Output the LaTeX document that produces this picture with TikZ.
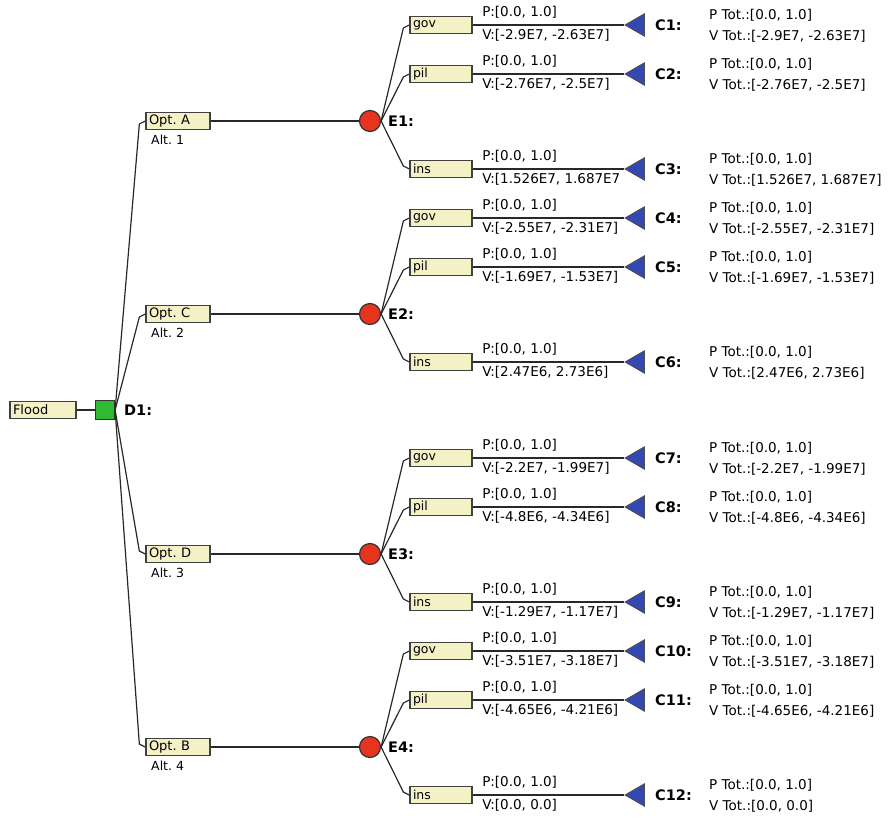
\documentclass[tikz,border=0pt]{standalone}
\usepackage{fontspec}
\setmainfont{DejaVu Sans}
\usepackage{tikz}
\usetikzlibrary{arrows.meta,shapes.geometric}
\frenchspacing

\definecolor{boxfill}{RGB}{245,241,198}
\definecolor{evred}{RGB}{230,52,30}
\definecolor{decgreen}{RGB}{48,186,52}
\definecolor{payblue}{RGB}{52,72,178}
\definecolor{wire}{RGB}{40,40,40}

\begin{document}
\begin{tikzpicture}[x=1pt, y=-1pt, >=Latex,
    link/.style={draw=wire, line width=1.2pt},
    box/.style={rectangle, fill=boxfill, draw=black!75, line width=1.3pt, minimum height=17,
        text width=56, inner xsep=3pt, inner ysep=0pt, align=left, font=\fontsize{12.5}{13}\selectfont},
    optbox/.style={box, text width=58, font=\fontsize{13}{14}\selectfont},
    decision/.style={rectangle, fill=decgreen, draw=black!80, line width=1.2pt, minimum size=19, inner sep=0pt},
    chance/.style={circle, fill=evred, draw=black!80, line width=1.2pt, minimum size=21, inner sep=0pt},
    payoff/.style={regular polygon, regular polygon sides=3, shape border rotate=90,
        fill=payblue, draw=black!70, line width=0.8pt, minimum size=26, inner sep=0pt},
    lbl/.style={anchor=west, inner sep=0pt, font=\bfseries\fontsize{14.5}{16}\selectfont},
    pv/.style={anchor=west, inner sep=0pt, font=\fontsize{13.5}{15}\selectfont},
    alt/.style={anchor=west, inner sep=0pt, font=\fontsize{12.5}{14}\selectfont}]
    \useasboundingbox (0,0) rectangle (893,818);

    % decision
    \node[optbox, text width=60] (flood) at (43,410) {Flood};
    \node[decision] (d1) at (105,410) {};
    \node[lbl] (d1lbl) at (124,410) {D1:};
    \draw[link] (flood) -- (d1);

    % alternatives
    \node[optbox] (optA) at (178,121) {Opt. A};
    \node[optbox] (optC) at (178,314) {Opt. C};
    \node[optbox] (optD) at (178,554) {Opt. D};
    \node[optbox] (optB) at (178,747) {Opt. B};
    \node[alt] (altA) at (151,140) {Alt. 1};
    \node[alt] (altC) at (151,333) {Alt. 2};
    \node[alt] (altD) at (151,573) {Alt. 3};
    \node[alt] (altB) at (151,766) {Alt. 4};
    \draw[link] (d1.east) -- ([shift={(-6,3)}]optA.west) -- (optA.west);
    \draw[link] (d1.east) -- ([shift={(-6,3)}]optC.west) -- (optC.west);
    \draw[link] (d1.east) -- ([shift={(-6,-3)}]optD.west) -- (optD.west);
    \draw[link] (d1.east) -- ([shift={(-6,-3)}]optB.west) -- (optB.west);

    % events
    \node[chance] (e1) at (370,121) {};
    \node[chance] (e2) at (370,314) {};
    \node[chance] (e3) at (370,554) {};
    \node[chance] (e4) at (370,747) {};
    \node[lbl] at (388,121) {E1:};
    \node[lbl] at (388,314) {E2:};
    \node[lbl] at (388,554) {E3:};
    \node[lbl] at (388,747) {E4:};
    \draw[link] (optA) -- (e1);
    \draw[link] (optC) -- (e2);
    \draw[link] (optD) -- (e3);
    \draw[link] (optB) -- (e4);

    % E1 branches
    \node[box] (gov1) at (441,25) {gov};
    \node[box] (pil1) at (441,74) {pil};
    \node[box] (ins1) at (441,169) {ins};
    \draw[link] (e1.east) -- ([shift={(-6,3)}]gov1.west) -- (gov1.west);
    \draw[link] (e1.east) -- ([shift={(-6,3)}]pil1.west) -- (pil1.west);
    \draw[link] (e1.east) -- ([shift={(-6,-3)}]ins1.west) -- (ins1.west);
    \node[payoff] (c1) at (638,25) {};
    \node[payoff] (c2) at (638,74) {};
    \node[payoff] (c3) at (638,169) {};
    \draw[link] (gov1.east) -- (c1)
        node[pv, pos=0, xshift=9pt, yshift=13pt] {P:[0.0, 1.0]}
        node[pv, pos=0, xshift=9pt, yshift=-10pt] {V:[-2.9E7, -2.63E7]};
    \draw[link] (pil1.east) -- (c2)
        node[pv, pos=0, xshift=9pt, yshift=13pt] {P:[0.0, 1.0]}
        node[pv, pos=0, xshift=9pt, yshift=-10pt] {V:[-2.76E7, -2.5E7]};
    \draw[link] (ins1.east) -- (c3)
        node[pv, pos=0, xshift=9pt, yshift=13pt] {P:[0.0, 1.0]}
        node[pv, pos=0, xshift=9pt, yshift=-10pt] {V:[1.526E7, 1.687E7};
    \node[lbl] (lc1) at (655,25) {C1:};
    \node[lbl] (lc2) at (655,74) {C2:};
    \node[lbl] (lc3) at (655,169) {C3:};
    \node[pv] at (709,15) {P Tot.:[0.0, 1.0]};
    \node[pv] at (709,36) {V Tot.:[-2.9E7, -2.63E7]};
    \node[pv] at (709,64) {P Tot.:[0.0, 1.0]};
    \node[pv] at (709,85) {V Tot.:[-2.76E7, -2.5E7]};
    \node[pv] at (709,159) {P Tot.:[0.0, 1.0]};
    \node[pv] at (709,180) {V Tot.:[1.526E7, 1.687E7]};

    % E2 branches
    \node[box] (gov2) at (441,218) {gov};
    \node[box] (pil2) at (441,267) {pil};
    \node[box] (ins2) at (441,362) {ins};
    \draw[link] (e2.east) -- ([shift={(-6,3)}]gov2.west) -- (gov2.west);
    \draw[link] (e2.east) -- ([shift={(-6,3)}]pil2.west) -- (pil2.west);
    \draw[link] (e2.east) -- ([shift={(-6,-3)}]ins2.west) -- (ins2.west);
    \node[payoff] (c4) at (638,218) {};
    \node[payoff] (c5) at (638,267) {};
    \node[payoff] (c6) at (638,362) {};
    \draw[link] (gov2.east) -- (c4)
        node[pv, pos=0, xshift=9pt, yshift=13pt] {P:[0.0, 1.0]}
        node[pv, pos=0, xshift=9pt, yshift=-10pt] {V:[-2.55E7, -2.31E7]};
    \draw[link] (pil2.east) -- (c5)
        node[pv, pos=0, xshift=9pt, yshift=13pt] {P:[0.0, 1.0]}
        node[pv, pos=0, xshift=9pt, yshift=-10pt] {V:[-1.69E7, -1.53E7]};
    \draw[link] (ins2.east) -- (c6)
        node[pv, pos=0, xshift=9pt, yshift=13pt] {P:[0.0, 1.0]}
        node[pv, pos=0, xshift=9pt, yshift=-10pt] {V:[2.47E6, 2.73E6]};
    \node[lbl] (lc4) at (655,218) {C4:};
    \node[lbl] (lc5) at (655,267) {C5:};
    \node[lbl] (lc6) at (655,362) {C6:};
    \node[pv] at (709,208) {P Tot.:[0.0, 1.0]};
    \node[pv] at (709,229) {V Tot.:[-2.55E7, -2.31E7]};
    \node[pv] at (709,257) {P Tot.:[0.0, 1.0]};
    \node[pv] at (709,278) {V Tot.:[-1.69E7, -1.53E7]};
    \node[pv] at (709,352) {P Tot.:[0.0, 1.0]};
    \node[pv] at (709,373) {V Tot.:[2.47E6, 2.73E6]};

    % E3 branches
    \node[box] (gov3) at (441,458) {gov};
    \node[box] (pil3) at (441,507) {pil};
    \node[box] (ins3) at (441,602) {ins};
    \draw[link] (e3.east) -- ([shift={(-6,3)}]gov3.west) -- (gov3.west);
    \draw[link] (e3.east) -- ([shift={(-6,3)}]pil3.west) -- (pil3.west);
    \draw[link] (e3.east) -- ([shift={(-6,-3)}]ins3.west) -- (ins3.west);
    \node[payoff] (c7) at (638,458) {};
    \node[payoff] (c8) at (638,507) {};
    \node[payoff] (c9) at (638,602) {};
    \draw[link] (gov3.east) -- (c7)
        node[pv, pos=0, xshift=9pt, yshift=13pt] {P:[0.0, 1.0]}
        node[pv, pos=0, xshift=9pt, yshift=-10pt] {V:[-2.2E7, -1.99E7]};
    \draw[link] (pil3.east) -- (c8)
        node[pv, pos=0, xshift=9pt, yshift=13pt] {P:[0.0, 1.0]}
        node[pv, pos=0, xshift=9pt, yshift=-10pt] {V:[-4.8E6, -4.34E6]};
    \draw[link] (ins3.east) -- (c9)
        node[pv, pos=0, xshift=9pt, yshift=13pt] {P:[0.0, 1.0]}
        node[pv, pos=0, xshift=9pt, yshift=-10pt] {V:[-1.29E7, -1.17E7]};
    \node[lbl] (lc7) at (655,458) {C7:};
    \node[lbl] (lc8) at (655,507) {C8:};
    \node[lbl] (lc9) at (655,602) {C9:};
    \node[pv] at (709,448) {P Tot.:[0.0, 1.0]};
    \node[pv] at (709,469) {V Tot.:[-2.2E7, -1.99E7]};
    \node[pv] at (709,497) {P Tot.:[0.0, 1.0]};
    \node[pv] at (709,518) {V Tot.:[-4.8E6, -4.34E6]};
    \node[pv] at (709,592) {P Tot.:[0.0, 1.0]};
    \node[pv] at (709,613) {V Tot.:[-1.29E7, -1.17E7]};

    % E4 branches
    \node[box] (gov4) at (441,651) {gov};
    \node[box] (pil4) at (441,700) {pil};
    \node[box] (ins4) at (441,795) {ins};
    \draw[link] (e4.east) -- ([shift={(-6,3)}]gov4.west) -- (gov4.west);
    \draw[link] (e4.east) -- ([shift={(-6,3)}]pil4.west) -- (pil4.west);
    \draw[link] (e4.east) -- ([shift={(-6,-3)}]ins4.west) -- (ins4.west);
    \node[payoff] (c10) at (638,651) {};
    \node[payoff] (c11) at (638,700) {};
    \node[payoff] (c12) at (638,795) {};
    \draw[link] (gov4.east) -- (c10)
        node[pv, pos=0, xshift=9pt, yshift=13pt] {P:[0.0, 1.0]}
        node[pv, pos=0, xshift=9pt, yshift=-10pt] {V:[-3.51E7, -3.18E7]};
    \draw[link] (pil4.east) -- (c11)
        node[pv, pos=0, xshift=9pt, yshift=13pt] {P:[0.0, 1.0]}
        node[pv, pos=0, xshift=9pt, yshift=-10pt] {V:[-4.65E6, -4.21E6]};
    \draw[link] (ins4.east) -- (c12)
        node[pv, pos=0, xshift=9pt, yshift=13pt] {P:[0.0, 1.0]}
        node[pv, pos=0, xshift=9pt, yshift=-10pt] {V:[0.0, 0.0]};
    \node[lbl] (lc10) at (655,651) {C10:};
    \node[lbl] (lc11) at (655,700) {C11:};
    \node[lbl] (lc12) at (655,795) {C12:};
    \node[pv] at (709,641) {P Tot.:[0.0, 1.0]};
    \node[pv] at (709,662) {V Tot.:[-3.51E7, -3.18E7]};
    \node[pv] at (709,690) {P Tot.:[0.0, 1.0]};
    \node[pv] at (709,711) {V Tot.:[-4.65E6, -4.21E6]};
    \node[pv] at (709,785) {P Tot.:[0.0, 1.0]};
    \node[pv] at (709,806) {V Tot.:[0.0, 0.0]};
\end{tikzpicture}
\end{document}
